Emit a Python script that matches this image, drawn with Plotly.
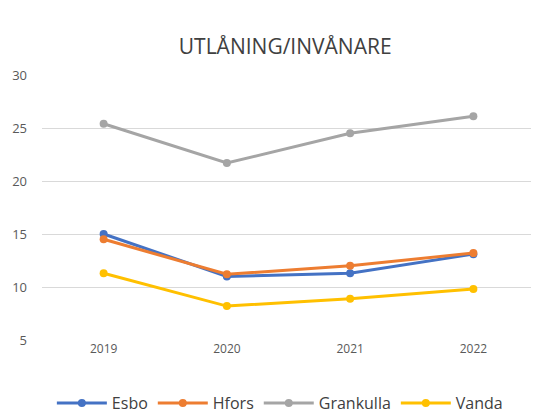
import plotly.graph_objects as go

years = ["2019", "2020", "2021", "2022"]
esbo = [15.0, 11.0, 11.3, 13.1]
hfors = [14.5, 11.2, 12.0, 13.2]
grankulla = [25.4, 21.7, 24.5, 26.1]
vanda = [11.3, 8.2, 8.9, 9.8]

series = [
    ("Esbo", esbo, "#4472C4"),
    ("Hfors", hfors, "#ED7D31"),
    ("Grankulla", grankulla, "#A5A5A5"),
    ("Vanda", vanda, "#FFC000"),
]

fig = go.Figure()
for name, vals, col in series:
    fig.add_trace(go.Scatter(
        x=years, y=vals, name=name, mode="lines+markers",
        line=dict(color=col, width=3),
        marker=dict(color=col, size=8),
    ))

fig.update_layout(
    width=531, height=406,
    margin=dict(l=31, r=4, t=67, b=74),
    paper_bgcolor="white", plot_bgcolor="white",
    font=dict(family="Open Sans, Liberation Sans, sans-serif", color="#595959", size=12),
    title=dict(text="UTLÅNING/INVÅNARE", x=0.522, xanchor="center", y=0.904, yanchor="middle",
               font=dict(size=21, color="#404040")),
    xaxis=dict(type="category", range=[-0.5, 3.5], showgrid=False, showline=False,
               ticks="", tickfont=dict(size=12, color="#595959")),
    yaxis=dict(range=[5, 30], tickvals=[5, 10, 15, 20, 25, 30], showgrid=True,
               gridcolor="#D9D9D9", gridwidth=1, zeroline=False, showline=False,
               ticks="", tickfont=dict(size=13, color="#595959"), ticklabelstandoff=14),
    legend=dict(orientation="h", x=0.02, xanchor="left", xref="paper",
                y=0.027, yanchor="middle", yref="container",
                font=dict(size=16, color="#404040"), itemwidth=50, traceorder="normal"),
)

fig.write_html("out.html")
